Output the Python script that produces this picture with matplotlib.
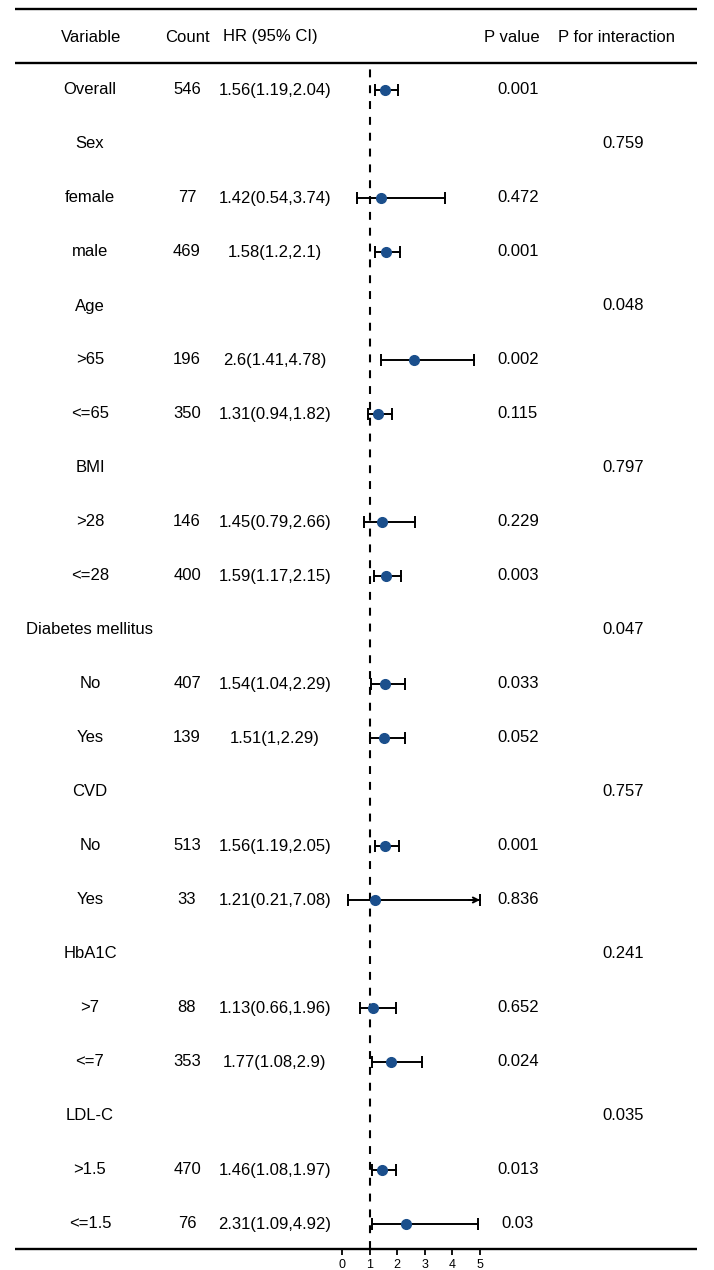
import numpy as np
import matplotlib
matplotlib.use("Agg")
import matplotlib.pyplot as plt

plt.rcParams['font.family'] = ['Liberation Sans', 'DejaVu Sans']

# table data
variables = ['Overall', 'Sex', 'female', 'male', 'Age', '>65', '<=65', 'BMI', '>28', '<=28',
             'Diabetes mellitus', 'No', 'Yes', 'CVD', 'No', 'Yes', 'HbA1C', '>7', '<=7',
             'LDL-C', '>1.5', '<=1.5']
counts = ['546', '', '77', '469', '', '196', '350', '', '146', '400', '', '407', '139', '',
          '513', '33', '', '88', '353', '', '470', '76']
hr = [1.56, None, 1.42, 1.58, None, 2.6, 1.31, None, 1.45, 1.59, None, 1.54, 1.51, None,
      1.56, 1.21, None, 1.13, 1.77, None, 1.46, 2.31]
lower = [1.19, None, 0.54, 1.2, None, 1.41, 0.94, None, 0.79, 1.17, None, 1.04, 1, None,
         1.19, 0.21, None, 0.66, 1.08, None, 1.08, 1.09]
upper = [2.04, None, 3.74, 2.1, None, 4.78, 1.82, None, 2.66, 2.15, None, 2.29, 2.29, None,
         2.05, 7.08, None, 1.96, 2.9, None, 1.97, 4.92]
pvals = ['0.001', '', '0.472', '0.001', '', '0.002', '0.115', '', '0.229', '0.003', '',
         '0.033', '0.052', '', '0.001', '0.836', '', '0.652', '0.024', '', '0.013', '0.03']
p_inter = ['', '0.759', '', '', '0.048', '', '', '0.797', '', '', '0.047', '', '', '0.757',
           '', '', '0.241', '', '', '0.035', '', '']

xticks = [0, 1, 2, 3, 4, 5]
xmax_show = 5

W, H = 714, 1270
fig = plt.figure(figsize=(W / 100, H / 100), dpi=100)

# background axes in pixel coords
bg = fig.add_axes([0, 0, 1, 1])
bg.set_xlim(0, W)
bg.set_ylim(H, 0)
bg.axis('off')

row0, step = 90, 54
fs = 12
col_var, col_cnt, col_hr, col_p, col_pi = 90, 187, 275, 518, 623

bg.text(91, 37, 'Variable', ha='center', va='center', fontsize=fs)
bg.text(187, 37, 'Count', ha='center', va='center', fontsize=fs)
bg.text(270, 37, 'HR (95% CI)', ha='center', va='center', fontsize=fs)
bg.text(512, 37, 'P value', ha='center', va='center', fontsize=fs)
bg.text(617, 37, 'P for interaction', ha='center', va='center', fontsize=fs)

for i in range(len(variables)):
    y = row0 + step * i
    bg.text(col_var, y, variables[i], ha='center', va='center', fontsize=fs)
    bg.text(col_cnt, y, counts[i], ha='center', va='center', fontsize=fs)
    if hr[i] is not None:
        s = '%g(%g,%g)' % (hr[i], lower[i], upper[i])
        bg.text(col_hr, y, s, ha='center', va='center', fontsize=fs)
    bg.text(col_p, y, pvals[i], ha='center', va='center', fontsize=fs)
    bg.text(col_pi, y, p_inter[i], ha='center', va='center', fontsize=fs)

for yl in [9, 63, 1249]:
    bg.plot([15, 697], [yl, yl], color='black', lw=1.7, solid_capstyle='butt')

# forest axes
L, R, T, B = 320, 500, 63, 1249
px_per = (480 - 342) / 5.0
fx = fig.add_axes([L / W, (H - B) / H, (R - L) / W, (B - T) / H])
fx.set_xlim((L - 342) / px_per, 5 + (R - 480) / px_per)
fx.set_ylim((B - row0) / step, (T - row0) / step)
fx.patch.set_alpha(0)
for sp in fx.spines.values():
    sp.set_visible(False)
fx.set_yticks([])
fx.set_xticks(xticks)
fx.tick_params(axis='x', direction='out', length=4.5, width=1.3, pad=2.5, labelsize=9)

fx.axvline(1, color='black', lw=1.5, linestyle=(0, (3.8, 3.8)), zorder=1)

blue = '#1b4f8c'
for i in range(len(variables)):
    if hr[i] is None:
        continue
    lo, hi = lower[i], upper[i]
    hi_c = min(hi, xmax_show)
    fx.plot([lo, hi_c], [i, i], color='black', lw=1.4, zorder=2)
    fx.plot([lo, hi_c], [i, i], linestyle='none', marker='|', markersize=8,
            mew=1.4, color='black', zorder=2)
    if hi > xmax_show:
        fx.annotate('', xy=(xmax_show, i), xytext=(xmax_show - 0.4, i),
                    arrowprops=dict(arrowstyle='->', lw=1.4, color='black',
                                    shrinkA=0, shrinkB=0, mutation_scale=9))
    fx.plot([hr[i]], [i], 'o', color=blue, markersize=7, zorder=3)

plt.savefig('out.png', dpi=100)
